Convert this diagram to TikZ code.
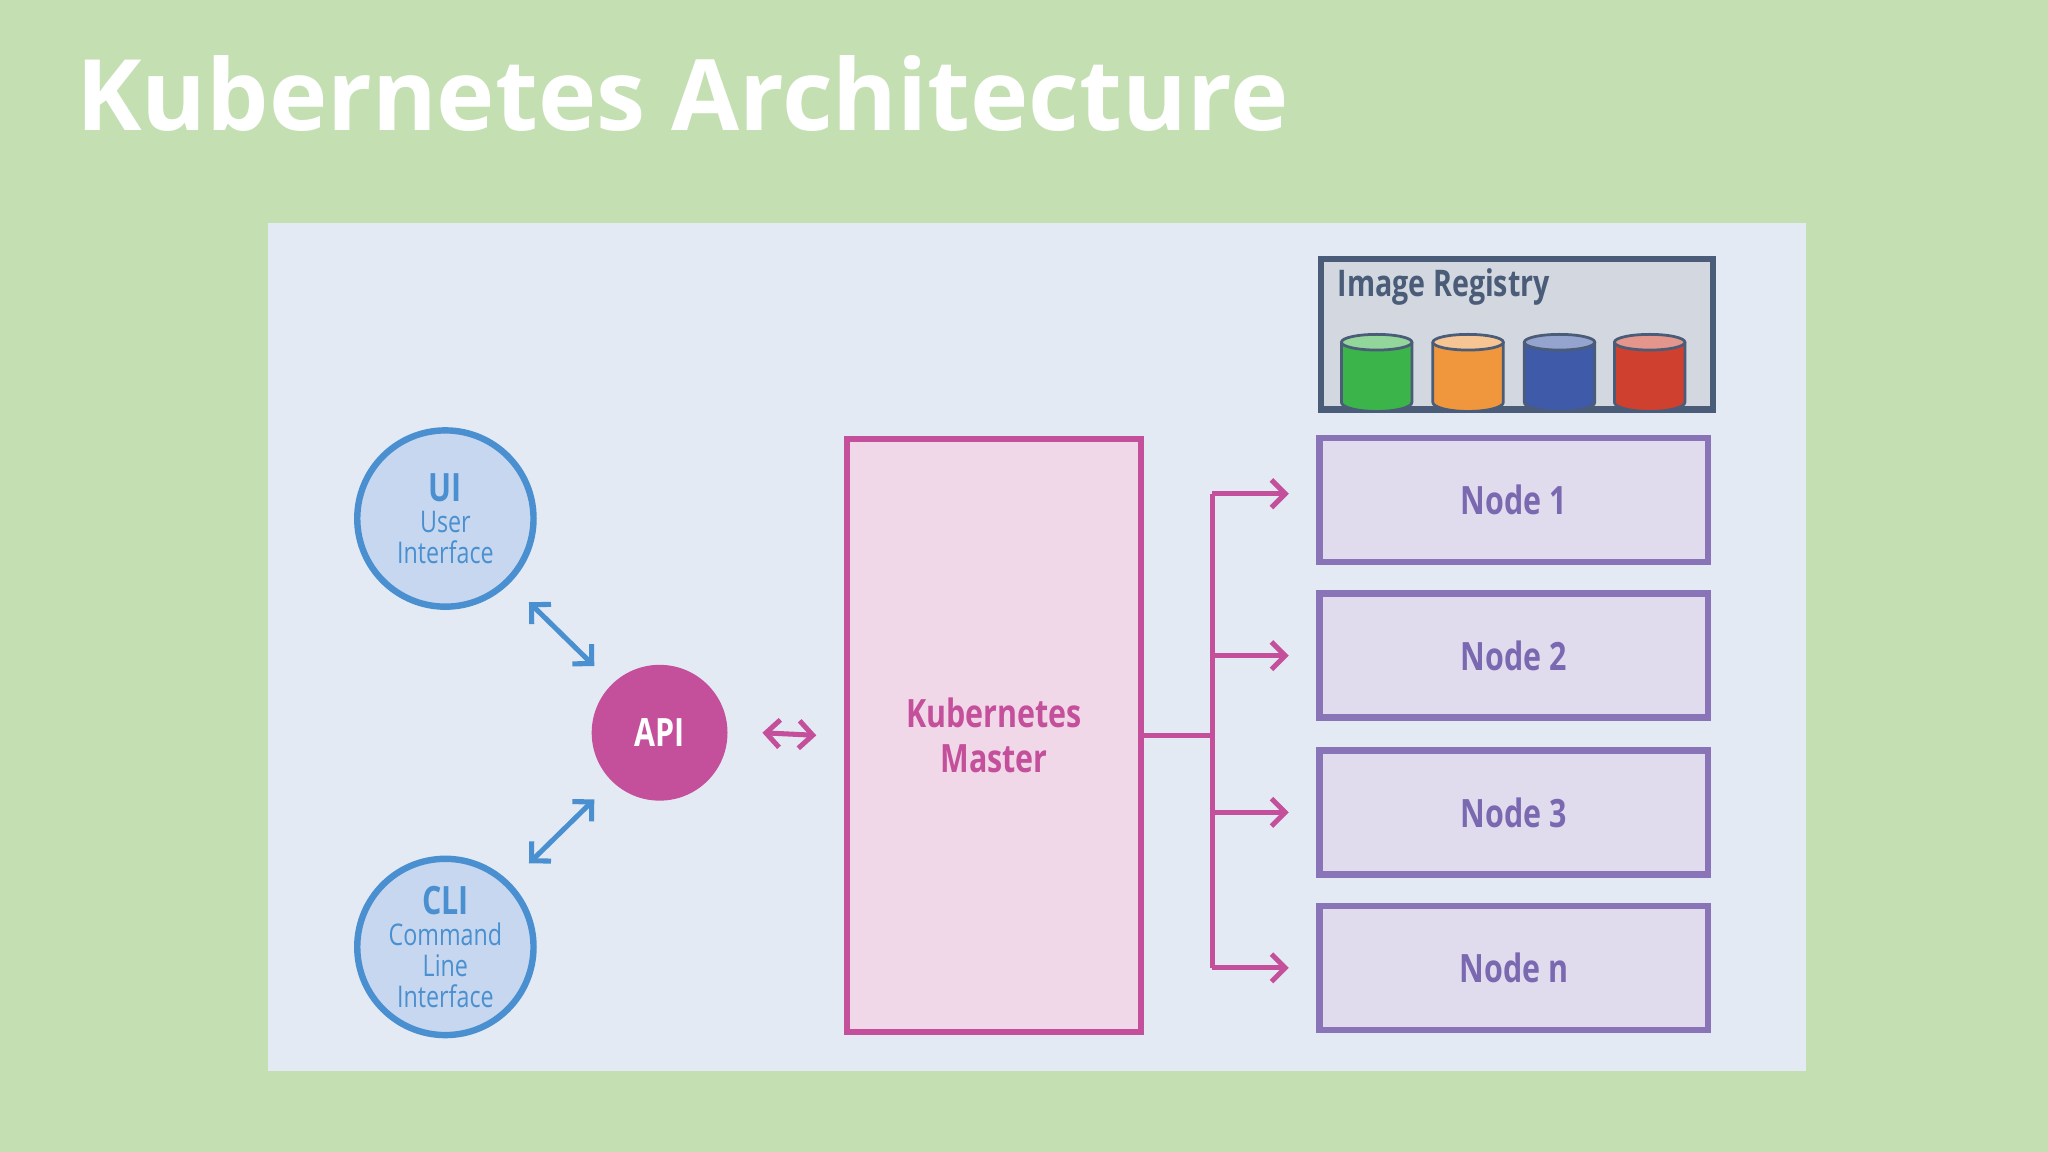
\documentclass[tikz,border=0pt]{standalone}
\usepackage{fontspec}
\setmainfont{Open Sans}
\newfontfamily\condfont{Open Sans}[FakeStretch=0.78]
\usetikzlibrary{positioning, arrows.meta}

\definecolor{bggreen}{HTML}{C4E0B2}
\definecolor{panel}{HTML}{E3EAF4}
\definecolor{regfill}{HTML}{D3D8E0}
\definecolor{regline}{HTML}{4A5C78}
\definecolor{uiblue}{HTML}{4A90D0}
\definecolor{uifill}{HTML}{C6D7EF}
\definecolor{magenta}{HTML}{C4509C}
\definecolor{masterfill}{HTML}{F0D8E8}
\definecolor{nodefill}{HTML}{E0DCEE}
\definecolor{nodeline}{HTML}{8A74B8}
\definecolor{nodetext}{HTML}{7A68B0}
\definecolor{cylgreen}{HTML}{3BB54A}
\definecolor{cylorange}{HTML}{F0963C}
\definecolor{cylblue}{HTML}{3F5AA8}
\definecolor{cylred}{HTML}{D0402E}

\tikzset{
  client/.style={circle, draw=uiblue, fill=uifill, line width=2.8pt, minimum size=2.7cm,
    inner sep=0pt, align=center, text=uiblue, font=\condfont\fontsize{13}{13.5}\selectfont},
  worker/.style={rectangle, draw=nodeline, fill=nodefill, line width=2.8pt,
    minimum width=5.95cm, minimum height=1.9cm, text=nodetext, font=\condfont\bfseries\fontsize{17}{19}\selectfont},
  link/.style={line width=2.2pt, {Straight Barb[length=6pt,width=12pt]}-{Straight Barb[length=6pt,width=12pt]}},
  fanout/.style={line width=2.2pt, magenta, -{Straight Barb[length=6pt,width=12pt]}}
}

\begin{document}
\begin{tikzpicture}[x=0.02cm, y=-0.02cm]
            % Background and panel
            \fill[bggreen] (0,0) rectangle (1568,882);
            \fill[panel] (205,171) rectangle (1383,820);
            \node[anchor=base west, inner sep=0, text=white, font=\bfseries\fontsize{43}{45}\selectfont] (title) at (58,100) {Kubernetes Architecture};

            % Image registry
            \node[draw=regline, fill=regfill, line width=2.8pt, minimum width=6cm, minimum height=2.3cm, anchor=north west] (registry) at (1009,196) {};
            \node[anchor=west, text=regline, font=\condfont\bfseries\fontsize{16}{18}\selectfont] (reglabel) at (1018,220) {Image Registry};
            \foreach \x/\c in {1054/cylgreen, 1124/cylorange, 1194/cylblue, 1263/cylred} {
              \fill[\c] (\x-27,262) -- (\x-27,308) arc[start angle=180, end angle=360, x radius=27, y radius=-7] -- (\x+27,262) -- cycle;
              \draw[regline, line width=1.2pt] (\x-27,262) -- (\x-27,308) arc[start angle=180, end angle=360, x radius=27, y radius=-7] -- (\x+27,262);
              \fill[\c!55!white] (\x,262) ellipse[x radius=27, y radius=6];
              \draw[regline, line width=1.2pt] (\x,262) ellipse[x radius=27, y radius=6];
            }

            % Clients and API
            \node[client] (ui) at (341,397) {{\bfseries\fontsize{17}{18}\selectfont UI}\\User\\Interface};
            \node[client] (cli) at (341,725) {{\bfseries\fontsize{17}{18}\selectfont CLI}\\Command\\Line\\Interface};
            \node[circle, fill=magenta, minimum size=2.08cm, text=white, font=\condfont\bfseries\fontsize{17}{19}\selectfont] (api) at (505,561) {API};

            % Master
            \node[draw=magenta, fill=masterfill, line width=2.8pt, minimum width=4.5cm, minimum height=9.08cm,
              align=center, text=magenta, font=\condfont\bfseries\fontsize{17}{20}\selectfont] (master) at (761,563) {Kubernetes\\Master};

            % Worker nodes
            \node[worker] (n1) at (1159,383) {Node 1};
            \node[worker] (n2) at (1159,502) {Node 2};
            \node[worker] (n3) at (1159,622) {Node 3};
            \node[worker] (nn) at (1159,741) {Node n};

            % Arrows
            \coordinate (uiA) at (405,461);
            \coordinate (uiB) at (455,510);
            \coordinate (cliA) at (405,661);
            \coordinate (cliB) at (455,612);
            \draw[link, uiblue] (uiA) -- (uiB);
            \draw[link, uiblue] (cliA) -- (cliB);
            \draw[link, magenta] ([xshift=15]api.east) -- ([xshift=-12]master.west);
            \coordinate (bus) at (928,563);
            \draw[line width=2.2pt, magenta] (master.east |- bus) -- (bus);
            \draw[line width=2.2pt, magenta] (928,378) -- (928,741);
            \foreach \n/\y in {n1/378, n2/502, n3/622, nn/741}
              \draw[fanout] (928,\y) -- ([xshift=-12]\n.west |- 0,\y);
        \end{tikzpicture}
\end{document}
